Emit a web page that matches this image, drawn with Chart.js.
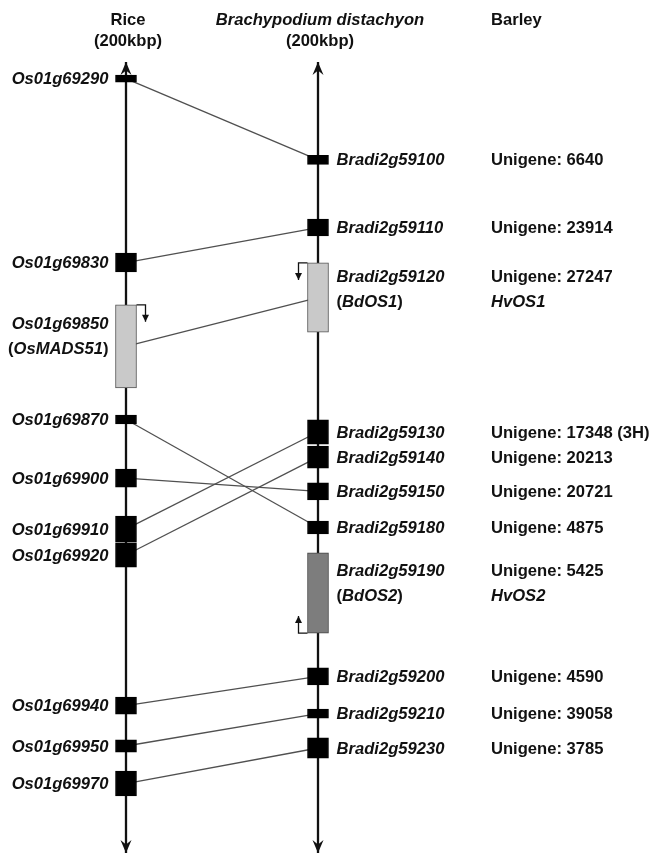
<!DOCTYPE html>
<html>
<head>
<meta charset="utf-8">
<script src="https://cdn.jsdelivr.net/npm/chart.js@4/dist/chart.umd.min.js"></script>
<style>
  html, body { margin: 0; padding: 0; background: #fff; }
  canvas { display: block; }
</style>
</head>
<body>
<canvas id="synteny" width="652" height="856"></canvas>
<script>
// ---------------- data ----------------
// Each chromosome segment is a 200 kbp window; positions are kb from the top of the window.
const speciesNames  = ['Rice', 'Brachypodium distachyon', 'Barley'];
const speciesWindow = ['(200kbp)', '(200kbp)', ''];
const WINDOW_KB = 200;

// Rice chromosome 1 genes
const riceGenes   = ['Os01g69290', 'Os01g69830', 'Os01g69850', 'Os01g69870', 'Os01g69900',
                     'Os01g69910', 'Os01g69920', 'Os01g69940', 'Os01g69950', 'Os01g69970'];
const riceStartKb = [3.3, 48.3, 61.4, 89.3, 102.9, 114.8, 121.6, 160.6, 171.4, 179.3];
const riceEndKb   = [5.1, 53.1, 82.4, 91.5, 107.5, 121.4, 127.7, 164.9, 174.5, 185.6];
const riceAlias   = ['', '', 'OsMADS51', '', '', '', '', '', '', ''];
const riceGroup   = ['', '', 'OS1', '', '', '', '', '', '', ''];
const riceTss     = ['', '', '+', '', '', '', '', '', '', ''];

// Brachypodium chromosome 2 genes
const bradiGenes   = ['Bradi2g59100', 'Bradi2g59110', 'Bradi2g59120', 'Bradi2g59130', 'Bradi2g59140',
                      'Bradi2g59150', 'Bradi2g59180', 'Bradi2g59190', 'Bradi2g59200', 'Bradi2g59210',
                      'Bradi2g59230'];
const bradiStartKb = [23.6, 39.7, 50.8, 90.5, 97.1, 106.4, 116.1, 124.1, 153.2, 163.6, 170.9];
const bradiEndKb   = [25.9, 44.0, 68.3, 96.6, 102.7, 110.7, 119.3, 144.4, 157.5, 165.9, 176.0];
const bradiAlias   = ['', '', 'BdOS1', '', '', '', '', 'BdOS2', '', '', ''];
const bradiGroup   = ['', '', 'OS1', '', '', '', '', 'OS2', '', '', ''];
const bradiTss     = ['', '', '+', '', '', '', '', '-', '', '', ''];

// Barley unigenes matched to each Brachypodium gene
const barleyUnigene  = ['6640', '23914', '27247', '17348 (3H)', '20213', '20721',
                        '4875', '5425', '4590', '39058', '3785'];
const barleyOrtholog = ['', '', 'HvOS1', '', '', '', '', 'HvOS2', '', '', ''];

// Orthologous pairs (rice gene -> Brachypodium gene)
const links = [
  ['Os01g69290', 'Bradi2g59100'],
  ['Os01g69830', 'Bradi2g59110'],
  ['Os01g69850', 'Bradi2g59120'],
  ['Os01g69870', 'Bradi2g59180'],
  ['Os01g69900', 'Bradi2g59150'],
  ['Os01g69910', 'Bradi2g59130'],
  ['Os01g69920', 'Bradi2g59140'],
  ['Os01g69940', 'Bradi2g59200'],
  ['Os01g69950', 'Bradi2g59210'],
  ['Os01g69970', 'Bradi2g59230']
];

// ---------------- layout & style ----------------
const X_RICE = 0, X_BRADI = 1, X_BARLEY = 1.901;
const FONT_FAMILY = '"Liberation Sans", Arial, Helvetica, sans-serif';
const F_BOLD = 'bold 16.6px ' + FONT_FAMILY;
const F_BOLD_IT = 'italic bold 16.6px ' + FONT_FAMILY;
const INK = '#111';
const groupFill   = { '': '#000000', OS1: '#c9c9c9', OS2: '#7d7d7d' };
const groupBorder = { '': '#000000', OS1: '#555555', OS2: '#444444' };

const mid = (a, b) => (a + b) / 2;

// gene boxes (floating bars)
const boxData = [], boxFill = [], boxBorder = [];
riceGenes.forEach((g, i) => {
  boxData.push({ x: X_RICE, y: [riceStartKb[i], riceEndKb[i]] });
  boxFill.push(groupFill[riceGroup[i]]);
  boxBorder.push(groupBorder[riceGroup[i]]);
});
bradiGenes.forEach((g, i) => {
  boxData.push({ x: X_BRADI, y: [bradiStartKb[i], bradiEndKb[i]] });
  boxFill.push(groupFill[bradiGroup[i]]);
  boxBorder.push(groupBorder[bradiGroup[i]]);
});

// synteny connectors between gene midpoints
const linkDatasets = links.map(([r, b]) => {
  const ri = riceGenes.indexOf(r), bi = bradiGenes.indexOf(b);
  return {
    type: 'line',
    data: [
      { x: X_RICE,  y: mid(riceStartKb[ri], riceEndKb[ri]) },
      { x: X_BRADI, y: mid(bradiStartKb[bi], bradiEndKb[bi]) }
    ],
    borderColor: '#505050',
    borderWidth: 1.3,
    pointRadius: 0,
    tension: 0,
    order: 1
  };
});

// chromosome backbones
const axisDatasets = [X_RICE, X_BRADI].map(x => ({
  type: 'line',
  data: [{ x, y: 0 }, { x, y: WINDOW_KB }],
  borderColor: '#111',
  borderWidth: 2.3,
  pointRadius: 0,
  order: 2
}));

// ---------------- drawing helpers ----------------
function drawRuns(ctx, runs, x, y, align) {
  const widths = runs.map(([t, it]) => { ctx.font = it ? F_BOLD_IT : F_BOLD; return ctx.measureText(t).width; });
  const total = widths.reduce((a, b) => a + b, 0);
  let cx = align === 'right' ? x - total : align === 'center' ? x - total / 2 : x;
  ctx.textAlign = 'left';
  runs.forEach(([t, it], k) => {
    ctx.font = it ? F_BOLD_IT : F_BOLD;
    ctx.fillText(t, cx, y);
    cx += widths[k];
  });
}

// vertical positions (px) of the label lines for a gene box
function labelRows(yTop, yBot, twoLines) {
  if (!twoLines) return [mid(yTop, yBot)];
  const c = yTop + 0.37 * (yBot - yTop);
  return [c - 12.5, c + 12.5];
}

function dart(ctx, x, yTip, dir) {
  // dir = -1 points up, +1 points down
  ctx.beginPath();
  ctx.moveTo(x, yTip);
  ctx.lineTo(x - 5.5, yTip - dir * 13);
  ctx.lineTo(x, yTip - dir * 8.5);
  ctx.lineTo(x + 5.5, yTip - dir * 13);
  ctx.closePath();
  ctx.fill();
}

function tssArrow(ctx, xEdge, yCorner, side, strand) {
  // bent arrow marking the transcription start and direction
  const xOut = xEdge + side * 9;
  const yEnd = yCorner + (strand === '+' ? 17 : -17);
  ctx.beginPath();
  ctx.moveTo(xEdge, yCorner);
  ctx.lineTo(xOut, yCorner);
  ctx.lineTo(xOut, yEnd);
  ctx.stroke();
  const d = strand === '+' ? 1 : -1;
  ctx.beginPath();
  ctx.moveTo(xOut, yEnd);
  ctx.lineTo(xOut - 3.5, yEnd - d * 7);
  ctx.lineTo(xOut + 3.5, yEnd - d * 7);
  ctx.closePath();
  ctx.fill();
}

const annotations = {
  id: 'annotations',
  afterDatasetsDraw(chart) {
    const ctx = chart.ctx;
    const xs = chart.scales.x, ys = chart.scales.y;
    const px = v => xs.getPixelForValue(v), py = v => ys.getPixelForValue(v);
    const bars = chart.getDatasetMeta(0).data;
    ctx.save();
    ctx.fillStyle = INK;
    ctx.strokeStyle = INK;
    ctx.textBaseline = 'middle';

    // backbone arrowheads
    [X_RICE, X_BRADI].forEach(x => {
      dart(ctx, px(x), py(0), -1);
      dart(ctx, px(x), py(WINDOW_KB), 1);
    });

    // column headers
    [X_RICE, X_BRADI].forEach((x, k) => {
      drawRuns(ctx, [[speciesNames[k], k === 1]], px(x) + 2, 20, 'center');
      drawRuns(ctx, [[speciesWindow[k], false]], px(x) + 2, 41, 'center');
    });
    drawRuns(ctx, [[speciesNames[2], false]], px(X_BARLEY), 20, 'left');

    // rice labels
    riceGenes.forEach((g, i) => {
      const bar = bars[i];
      const rows = labelRows(py(riceStartKb[i]), py(riceEndKb[i]), !!riceAlias[i]);
      const xr = bar.x - bar.width / 2 - 7;
      drawRuns(ctx, [[g, true]], xr, rows[0] + 1, 'right');
      if (riceAlias[i]) drawRuns(ctx, [['(', false], [riceAlias[i], true], [')', false]], xr, rows[1] + 1, 'right');
      if (riceTss[i]) {
        ctx.lineWidth = 1.3;
        const yc = riceTss[i] === '+' ? py(riceStartKb[i]) : py(riceEndKb[i]);
        tssArrow(ctx, bar.x + bar.width / 2, yc, 1, riceTss[i]);
      }
    });

    // Brachypodium and barley labels
    bradiGenes.forEach((g, i) => {
      const bar = bars[riceGenes.length + i];
      const rows = labelRows(py(bradiStartKb[i]), py(bradiEndKb[i]), !!bradiAlias[i]);
      const xl = bar.x + bar.width / 2 + 8;
      drawRuns(ctx, [[g, true]], xl, rows[0] + 1, 'left');
      if (bradiAlias[i]) drawRuns(ctx, [['(', false], [bradiAlias[i], true], [')', false]], xl, rows[1] + 1, 'left');
      drawRuns(ctx, [['Unigene: ' + barleyUnigene[i], false]], px(X_BARLEY), rows[0] + 1, 'left');
      if (barleyOrtholog[i]) drawRuns(ctx, [[barleyOrtholog[i], true]], px(X_BARLEY), rows[1] + 1, 'left');
      if (bradiTss[i]) {
        ctx.lineWidth = 1.3;
        const yc = bradiTss[i] === '+' ? py(bradiStartKb[i]) : py(bradiEndKb[i]);
        tssArrow(ctx, bar.x - bar.width / 2, yc, -1, bradiTss[i]);
      }
    });
    ctx.restore();
  }
};

new Chart(document.getElementById('synteny'), {
  type: 'bar',
  data: {
    datasets: [
      {
        type: 'bar',
        data: boxData,
        backgroundColor: boxFill,
        borderColor: boxBorder,
        borderWidth: 1,
        borderSkipped: false,
        barThickness: 21,
        grouped: false,
        order: 0
      },
      ...linkDatasets,
      ...axisDatasets
    ]
  },
  options: {
    responsive: false,
    devicePixelRatio: 1,
    animation: false,
    events: [],
    layout: { padding: 0 },
    plugins: { legend: { display: false }, tooltip: { enabled: false } },
    scales: {
      x: { type: 'linear', display: false, offset: false, min: -0.65625, max: 2.7396 },
      y: { type: 'linear', display: false, reverse: true, min: -15.68, max: 200.76 }
    }
  },
  plugins: [annotations]
});
</script>
</body>
</html>
